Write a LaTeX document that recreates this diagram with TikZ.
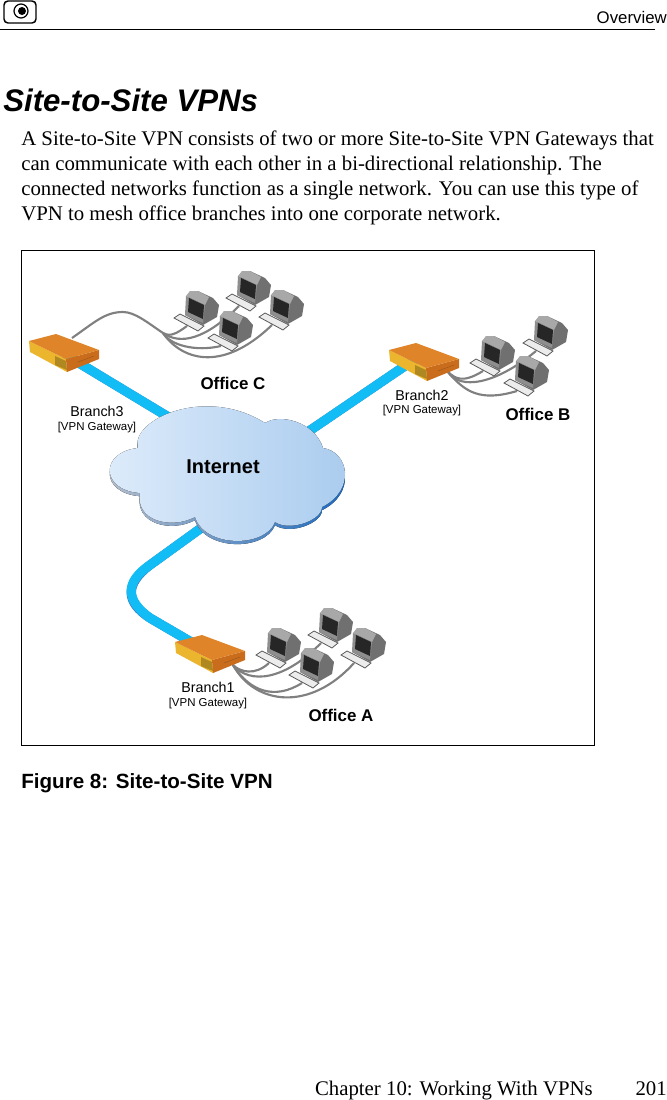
\documentclass[tikz,border=0pt]{standalone}
\usepackage{fontspec}
\setmainfont{Liberation Serif}
\setsansfont{Liberation Sans}
\usetikzlibrary{backgrounds}
\definecolor{linkBlue}{HTML}{12BDF5}
\definecolor{linkDark}{HTML}{3F66B5}
\definecolor{caseBack}{HTML}{707070}
\definecolor{caseFront}{HTML}{8E8E8E}
\definecolor{caseTop}{HTML}{A8A8A8}
\definecolor{cableGrey}{HTML}{808080}
\definecolor{boxTop}{HTML}{DF8429}
\definecolor{boxSide}{HTML}{C96C1C}
\definecolor{boxFront}{HTML}{EBB52E}
\definecolor{cloudLeft}{HTML}{DEECFB}
\definecolor{cloudRight}{HTML}{A9CBEE}
\definecolor{rimLeft}{HTML}{B9C0CC}
\definecolor{rimRight}{HTML}{1667BE}
%% One computer: monitor and keyboard, (#1) is where its cable ends.
\newcommand{\officePC}[3]{%%
  \begin{scope}[shift={(#2,#3)}]
    \fill[caseBack] (-13,-17) -- (-5,-17) -- (10,-10) -- (16,-3) -- (14,9)
      -- (0,17) -- (-18,7) -- cycle;
    \fill[caseTop] (-13,-17) -- (-5,-17) -- (6,-11) -- (2,-3) -- (-17,-12) -- cycle;
    \fill[caseFront] (-17,-12) -- (2,-3) -- (0,15) -- (-18,7) -- cycle;
    \fill[black!85] (-14,-10) -- (1,-3) -- (0,11) -- (-15,4) -- cycle;
    \filldraw[keyStyle] (-29,10) -- (-23,6) -- (1,18) -- (-5,23) -- cycle;
    \coordinate (#1) at (-16,18);
  \end{scope}
}
%% One gateway box, (#1) is its centre.
\newcommand{\gatewayBox}[3]{%%
  \begin{scope}[shift={(#2,#3)}]
    \coordinate (#1) at (0,0);
    \fill[boxFront] (-35,-11) -- (2,7) -- (3,20) -- (-34,0) -- cycle;
    \fill[boxSide] (2,7) -- (35,-2) -- (35,7) -- (3,20) -- cycle;
    \fill[boxTop] (-35,-11) -- (-8,-18) -- (35,-2) -- (2,7) -- cycle;
    \fill[boxFront!75!black] (-9,4) -- (2,9) -- (3,18) -- (-9,13) -- cycle;
    \draw[boxTop!60!black,very thin] (14,10) -- (30,4);
  \end{scope}
}
%% The outline of the cloud.
\newcommand{\cloudPath}{%%
  (138,448) .. controls (130,420) and (205,385) .. (265,423)
  .. controls (280,413) and (315,422) .. (323,448)
  .. controls (349,452) and (356,490) .. (322,507)
  .. controls (322,520) and (290,532) .. (275,522)
  .. controls (265,548) and (205,548) .. (195,517)
  .. controls (170,530) and (135,520) .. (140,493)
  .. controls (100,490) and (100,452) .. (138,448) -- cycle
}
\begin{document}
\begin{tikzpicture}[%%
  x=0.75pt,y=-0.75pt,%%
  keyStyle/.style={fill=gray!15,draw=black!65,line width=0.6pt},%%
  linkStyle/.style={line width=7pt,linkBlue},%%
  linkShade/.style={line width=7pt,linkDark,yshift=-1.4pt},%%
  cableStyle/.style={cableGrey,line width=1.6pt},%%
  bodyText/.style={anchor=base west,inner sep=0pt,font=\fontsize{15.6}{18}\selectfont},%%
  boldLabel/.style={inner sep=0pt,font=\sffamily\bfseries\fontsize{12.7}{14}\selectfont},%%
  branchLabel/.style={inner sep=0pt,font=\sffamily\fontsize{10.7}{12}\selectfont},%%
  gateLabel/.style={inner sep=0pt,font=\sffamily\fontsize{8.6}{10}\selectfont}%%
]
\useasboundingbox (0,0) rectangle (667,1100);
%%
%% Page furniture.
\draw[line width=1.1pt,rounded corners=3pt] (4,1) rectangle (36,23);
\draw[line width=0.9pt] (21,11) circle (7);
\fill (22,11) circle (4);
\draw[line width=0.75pt] (0,29) -- (655,29);
\node[anchor=base east,inner sep=0pt,font=\sffamily\fontsize{12.6}{14}\selectfont] (header) at (667,23) {Overview};
\node[anchor=base west,inner sep=0pt,font=\sffamily\bfseries\itshape\fontsize{23.4}{26}\selectfont] (title) at (3,111) {Site-to-Site VPNs};
\node[bodyText] (lineA) at (21,145) {A Site-to-Site VPN consists of two or more Site-to-Site VPN Gateways that};
\node[bodyText] (lineB) at (21,170) {can communicate with each other in a bi-directional relationship. The};
\node[bodyText] (lineC) at (21,195) {connected networks function as a single network. You can use this type of};
\node[bodyText] (lineD) at (21,220) {VPN to mesh office branches into one corporate network.};
\draw[line width=0.75pt] (21,250) rectangle (594,745);
\node[anchor=base west,inner sep=0pt,font=\sffamily\bfseries\fontsize{15.45}{18}\selectfont] (caption) at (21,788) {Figure 8: Site-to-Site VPN};
\node[bodyText,anchor=base east] (footer) at (593,1095) {Chapter 10: Working With VPNs};
\node[bodyText,anchor=base east] (pageNo) at (667,1095) {201};
%%
%% Gateways and computers.
\gatewayBox{gwC}{64}{352}
\gatewayBox{gwB}{424}{361}
\gatewayBox{gwA}{210}{653}
\foreach \pcName/\pcX/\pcY in {pcCa/203/308,pcCb/255/288,pcCd/288/307,pcCc/237/328,%%
  pcBa/499/353,pcBb/552/333,pcBc/533/373,%%
  pcAa/285/645,pcAb/337/625,pcAd/370/645,pcAc/318/665}
  \officePC{\pcName}{\pcX}{\pcY}
%%
%% Free ends of the links and the cables.
\coordinate (linkC) at (64,354);
\coordinate (cloudC) at (190,430);
\coordinate (linkB) at (424,353);
\coordinate (cloudB) at (290,444);
\coordinate (linkA) at (210,653);
\coordinate (cloudA) at (215,518);
\coordinate (bendA) at (150,565);
\coordinate (kneeA) at (150,618);
\coordinate (portC) at (72,338);
\coordinate (hubC) at (163,333);
\coordinate (portB) at (448,372);
\coordinate (portA) at (233,665);
%%
\begin{scope}[on background layer]
  \foreach \linkKey in {linkShade,linkStyle} {
    \draw[\linkKey] (linkC) -- (cloudC);
    \draw[\linkKey] (linkB) -- (cloudB);
    \draw[\linkKey,line join=round] (cloudA) -- (bendA) .. controls (125,582) and (125,600) .. (kneeA) -- (linkA);
  }
  %% The cloud: its dark rim first, then its face.
  \fill[left color=rimLeft,right color=rimRight,yshift=-2.4pt] \cloudPath;
  \fill[left color=cloudLeft,right color=cloudRight] \cloudPath;
  %%
  \draw[cableStyle] (portC) .. controls (95,322) and (105,312) .. (123,312)
    .. controls (135,312) and (148,323) .. (hubC);
  \draw[cableStyle] (hubC) .. controls (170,337) and (176,334) .. (pcCa);
  \draw[cableStyle] (hubC) .. controls (180,345) and (205,340) .. (pcCb);
  \draw[cableStyle] (hubC) .. controls (170,345) and (195,352) .. (pcCc);
  \draw[cableStyle] (hubC) .. controls (180,358) and (220,375) .. (pcCd);
  \draw[cableStyle] (portB) .. controls (455,378) and (462,384) .. (pcBa);
  \draw[cableStyle] (portB) .. controls (460,390) and (495,385) .. (pcBb);
  \draw[cableStyle] (portB) .. controls (465,392) and (480,402) .. (pcBc);
  \draw[cableStyle] (portA) .. controls (240,672) and (255,676) .. (pcAa);
  \draw[cableStyle] (portA) .. controls (250,685) and (285,680) .. (pcAb);
  \draw[cableStyle] (portA) .. controls (250,692) and (275,700) .. (pcAc);
  \draw[cableStyle] (portA) .. controls (255,705) and (310,712) .. (pcAd);
\end{scope}
%%
%% Labels of the network.
\node[inner sep=0pt,font=\sffamily\bfseries\fontsize{15}{17}\selectfont] (inet) at (223,467) {Internet};
\node[boldLabel] (officeC) at (233,383) {Office C};
\node[boldLabel] (officeB) at (538,414) {Office B};
\node[boldLabel] (officeA) at (341,715) {Office A};
\node[branchLabel] (branchC) at (97,411) {Branch3};
\node[gateLabel] (gateC) at (97,428) {[VPN Gateway]};
\node[branchLabel] (branchB) at (422,395) {Branch2};
\node[gateLabel] (gateB) at (422,411) {[VPN Gateway]};
\node[branchLabel] (branchA) at (208,687) {Branch1};
\node[gateLabel] (gateA) at (208,704) {[VPN Gateway]};
\end{tikzpicture}
\end{document}
